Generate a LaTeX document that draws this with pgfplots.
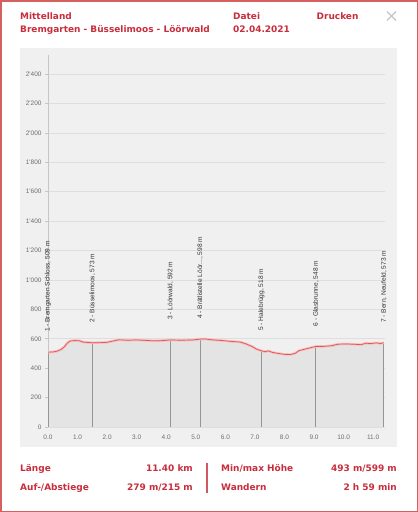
\documentclass[border=0pt]{standalone}
\usepackage{pgfplots}
\pgfplotsset{compat=1.18}
\usepackage{fontspec}
\setmainfont{Liberation Sans}
\newfontfamily\headfont{DejaVu Sans}
\newfontfamily\tickfont{Liberation Sans}
\definecolor{mainred}{RGB}{200,45,60}
\definecolor{borderred}{RGB}{212,96,96}
\definecolor{panel}{RGB}{240,240,240}
\definecolor{areafill}{RGB}{228,228,228}
\definecolor{gridc}{RGB}{222,222,222}
\definecolor{curve}{RGB}{225,85,85}
\definecolor{halo}{RGB}{245,190,190}
\definecolor{ticktext}{RGB}{110,110,110}
\definecolor{wpline}{RGB}{150,150,150}
\pgfplotstableread{
x y
0.0 509
0.15 510
0.3 515
0.45 528
0.55 545
0.65 570
0.75 585
0.9 588
1.05 587
1.2 577
1.5 573
1.8 574
2.0 576
2.2 585
2.4 593
2.7 590
3.0 592
3.3 589
3.6 586
3.9 588
4.14 592
4.5 590
4.9 592
5.15 598
5.3 599
5.6 592
5.9 588
6.2 582
6.5 578
6.7 565
6.9 548
7.05 530
7.22 518
7.35 512
7.45 518
7.6 507
7.8 500
8.0 494
8.2 493
8.35 500
8.5 520
8.8 535
9.06 548
9.3 548
9.6 553
9.8 563
10.1 565
10.4 562
10.6 560
10.75 570
10.9 567
11.1 572
11.25 568
11.36 573
}\profile
\begin{document}
\begin{tikzpicture}
\path[use as bounding box] (0,0) rectangle (418bp,-512bp);
\draw[borderred, line width=1.5bp] (0.75bp,-0.75bp) rectangle (417.25bp,-511.25bp);
\fill[panel] (20bp,-48bp) rectangle (397bp,-447bp);
\begin{scope}[every node/.style={font=\headfont\bfseries\fontsize{9}{10}\selectfont, text=mainred, inner sep=0pt}]
\node[anchor=base west] at (20bp,-19bp) {Mittelland};
\node[anchor=base west] at (20bp,-32.5bp) {Bremgarten - Büsselimoos - Löörwald};
\node[anchor=base west] at (233bp,-19bp) {Datei};
\node[anchor=base west] at (233bp,-32.5bp) {02.04.2021};
\node[anchor=base west] at (316.5bp,-19bp) {Drucken};
\node[anchor=base west] at (20bp,-471.5bp) {Länge};
\node[anchor=base east] at (193bp,-471.5bp) {11.40 km};
\node[anchor=base west] at (20bp,-490.5bp) {Auf-/Abstiege};
\node[anchor=base east] at (193bp,-490.5bp) {279 m/215 m};
\node[anchor=base west] at (221bp,-471.5bp) {Min/max Höhe};
\node[anchor=base east] at (397bp,-471.5bp) {493 m/599 m};
\node[anchor=base west] at (221bp,-490.5bp) {Wandern};
\node[anchor=base east] at (397bp,-490.5bp) {2 h 59 min};
\end{scope}
\draw[gray!45, line width=1.2bp] (387bp,-11.5bp) -- (396bp,-20.5bp) (387bp,-20.5bp) -- (396bp,-11.5bp);
\draw[mainred!80, line width=1.5bp] (207bp,-462.5bp) -- (207bp,-492.5bp);
\begin{axis}[
  at={(48bp,-427bp)}, anchor=south west,
  scale only axis, width=337bp, height=372bp,
  xmin=0, xmax=11.4, ymin=0, ymax=2530,
  axis lines*=left,
  x axis line style={draw=none},
  y axis line style={draw=gray!45, line width=0.6bp},
  xtick={0,1,...,11},
  xticklabels={0.0,1.0,2.0,3.0,4.0,5.0,6.0,7.0,8.0,9.0,10.0,11.0},
  ytick={0,200,...,2400},
  yticklabels={0,200,400,600,800,1\textquotesingle 000,1\textquotesingle 200,1\textquotesingle 400,1\textquotesingle 600,1\textquotesingle 800,2\textquotesingle 000,2\textquotesingle 200,2\textquotesingle 400},
  xtick style={draw=none},
  ytick style={draw=gray!45, line width=0.6bp},
  tick align=outside, major tick length=3bp,
  ymajorgrids, grid style={gridc, line width=0.6bp},
  tick label style={font=\tickfont\fontsize{6.5}{7}\selectfont, text=ticktext},
  xticklabel style={yshift=-1bp},
  clip=false,
]
\addplot[fill=areafill, draw=none] table[x=x,y=y] {\profile} \closedcycle;
\addplot[ycomb, draw=wpline, line width=0.8bp] coordinates {(0,509) (1.5,573) (4.14,592) (5.15,598) (7.22,518) (9.06,548) (11.36,573)};
\addplot[halo, line width=2.4bp, line join=round] table[x=x,y=y] {\profile};
\addplot[curve, line width=0.7bp, line join=round] table[x=x,y=y] {\profile};
\begin{scope}[every node/.style={rotate=90, anchor=west, font=\fontsize{6.6}{7}\selectfont, text=black!80, inner sep=0pt}]
\node at ([yshift=20bp]axis cs:0,509) {1 - Bremgarten Schloss, 509 m};
\node at ([yshift=20bp]axis cs:1.5,573) {2 - Büsselimoos, 573 m};
\node at ([yshift=20bp]axis cs:4.14,592) {3 - Löörwald, 592 m};
\node at ([yshift=20bp]axis cs:5.15,598) {4 - Brätlistelle Löör..., 598 m};
\node at ([yshift=20bp]axis cs:7.22,518) {5 - Halebrügg, 518 m};
\node at ([yshift=20bp]axis cs:9.06,548) {6 - Glasbrunne, 548 m};
\node at ([yshift=20bp]axis cs:11.36,573) {7 - Bern, Neufeld, 573 m};
\end{scope}
\end{axis}
\end{tikzpicture}
\end{document}
